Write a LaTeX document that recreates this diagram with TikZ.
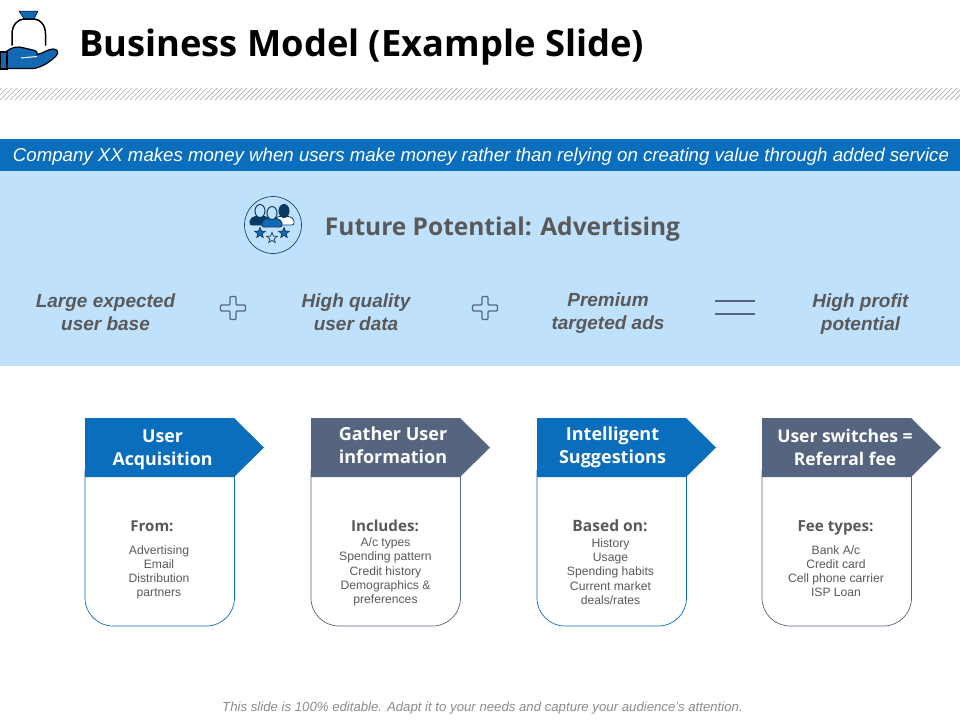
\documentclass[tikz,border=0pt]{standalone}
\usepackage{fontspec}
\usetikzlibrary{shapes.geometric}
\setmainfont{Liberation Sans}
\newfontfamily\headfont{Open Sans}
\definecolor{bandblue}{HTML}{0A6EBD}
\definecolor{paleblue}{HTML}{BFE1FB}
\definecolor{slategrey}{HTML}{55657F}
\definecolor{textgrey}{HTML}{595959}
\definecolor{iconblue}{HTML}{1268B3}
\definecolor{icondark}{HTML}{0B3A66}
\tikzset{
	bodytext/.style={text=textgrey, font=\fontsize{12.15}{14.2}\selectfont, align=center},
	fromtext/.style={text=textgrey, font=\headfont\fontsize{15.2}{17}\selectfont\bfseries},
	flowtext/.style={text=textgrey, font=\fontsize{19}{23}\selectfont\bfseries\itshape, align=center},
	headtext/.style={text=white, font=\headfont\fontsize{18}{23}\selectfont\bfseries, align=center},
	symbolline/.style={draw=slategrey, line width=1.3pt},
	cardline/.style={line width=0.7pt, rounded corners=28pt}
}
\begin{document}
\begin{tikzpicture}[x=1pt, y=-1pt]
	\useasboundingbox (0,0) rectangle (960,720);
	\fill[white] (0,0) rectangle (960,720);
	% money bag in hand
	\fill[iconblue, draw=black, line width=0.5pt] (19,11) -- (38,11) -- (34,19) -- (24,19) -- cycle;
	\draw[black, line width=1.5pt, line cap=round] (12,45) -- (12,34) .. controls (12,25) and (18,19) .. (24,19) -- (34,19) .. controls (40,19) and (45.5,25) .. (45.5,34) -- (45.5,45);
	\fill[iconblue, draw=black, line width=1.2pt] (7,51) .. controls (12,47) and (18,46) .. (24,48) -- (33,50) .. controls (37,51) and (38,53) .. (37,54.5) .. controls (42,54) and (48,49) .. (53,49) .. controls (58,49) and (59,53) .. (56,56) .. controls (50,62) and (42,67) .. (34,68.5) -- (7,68.5) -- cycle;
	\draw[white, line width=1pt] (21,58) -- (37,56.5);
	\fill[iconblue, draw=black, line width=1.2pt] (0.5,52) rectangle (7,69);
	\node[anchor=west, text=black, font=\headfont\fontsize{36.3}{40}\selectfont\bfseries, inner sep=0pt] (title) at (79,47.5) {Business Model (Example Slide)};
	% hatch band
	\begin{scope}
		\clip (0,88) rectangle (960,100);
		\foreach \hx in {-10,-5,...,965} {
			\draw[black!32, line width=0.7pt] (\hx,100) -- (\hx+12,88);
		}
	\end{scope}
	\fill[paleblue] (0,171) rectangle (960,366);
	\fill[bandblue] (0,139) rectangle (960,171);
	\node[text=white, font=\fontsize{18.65}{20}\selectfont\itshape, inner sep=0pt] (claim) at (481,156.5) {Company XX makes money when users make money rather than relying on creating value through added service};
	% people badge
	\node[circle, draw=iconblue!70!black, fill=paleblue, line width=0.7pt, minimum size=57pt, inner sep=0pt] (badge) at (273,225) {};
	\foreach \px/\py/\pc/\hc in {260/0/icondark/paleblue, 284/0/white/icondark, 272/2/iconblue/paleblue} {
		\fill[\pc, draw=icondark, line width=0.8pt, rounded corners=2pt] (\px-10,225+\py) -- (\px-10,219+\py) -- (\px-4,216+\py) -- (\px+4,216+\py) -- (\px+10,219+\py) -- (\px+10,225+\py) -- cycle;
		\fill[\hc, draw=icondark, line width=1pt] (\px,211+\py) ellipse (5pt and 6.5pt);
	}
	\foreach \sx/\sy/\sc/\sn in {260/233/iconblue/stara, 272/238/paleblue/starb, 284/233/iconblue/starc} {
		\node[star, star points=5, star point ratio=2.3, fill=\sc, draw=icondark, line width=0.7pt, minimum size=11pt, inner sep=0pt] (\sn) at (\sx,\sy) {};
	}
	\node[text=textgrey, font=\headfont\fontsize{24.5}{28}\selectfont\bfseries, inner sep=0pt] (future) at (502.5,229) {Future Potential: Advertising};
	\node[flowtext] (base) at (105.5,312) {Large expected\\user base};
	\node[flowtext] (data) at (356,312) {High quality\\user data};
	\node[flowtext] (ads) at (608,313.5) {Premium\\targeted ads};
	\node[flowtext] (profit) at (860.5,314) {High profit\\potential};
	% plus and equals
	\foreach \qx in {233,485} {
		\fill[paleblue, draw=slategrey, line width=1.3pt, rounded corners=1pt] (\qx-3,296.5) -- (\qx+3,296.5) -- (\qx+3,305) -- (\qx+12.5,305) -- (\qx+12.5,311) -- (\qx+3,311) -- (\qx+3,319.5) -- (\qx-3,319.5) -- (\qx-3,311) -- (\qx-12.5,311) -- (\qx-12.5,305) -- (\qx-3,305) -- cycle;
	}
	\coordinate (eqa) at (715,301);
	\coordinate (eqb) at (755,301);
	\coordinate (eqc) at (715,314);
	\coordinate (eqd) at (755,314);
	\draw[symbolline] (eqa) -- (eqb);
	\draw[symbolline] (eqc) -- (eqd);
	% cards
	\foreach \bx/\bc in {85/bandblue, 311/slategrey, 537/bandblue, 762/slategrey} {
		\draw[\bc, cardline] (\bx,470) -- (\bx,626) -- (\bx+149.5,626) -- (\bx+149.5,470);
		\fill[\bc] (\bx,418) -- (\bx+149,418) -- (\bx+179,447.5) -- (\bx+149,477) -- (\bx,477) -- cycle;
	}
	\node[headtext, font=\headfont\fontsize{17.8}{23}\selectfont\bfseries] (acq) at (162.5,449.5) {User\\Acquisition};
	\node[headtext] (gather) at (393,445.5) {Gather User\\information};
	\node[headtext] (smart) at (612.5,447.5) {Intelligent\\Suggestions};
	\node[headtext, font=\headfont\fontsize{17.5}{23}\selectfont\bfseries] (switch) at (845,447) {User switches =\\Referral fee};
	\node[fromtext, font=\headfont\fontsize{15}{17}\selectfont\bfseries] (from) at (152,526) {From:};
	\node[fromtext] (incl) at (385,526) {Includes:};
	\node[fromtext, font=\headfont\fontsize{15.6}{17}\selectfont\bfseries] (based) at (610,526) {Based on:};
	\node[fromtext] (fee) at (835.5,528) {Fee types:};
	\node[bodytext] (fromlist) at (159,572.5) {Advertising\\Email\\Distribution\\partners};
	\node[bodytext] (incllist) at (385.5,572) {A/c types\\Spending pattern\\Credit history\\Demographics \&\\preferences};
	\node[bodytext] (basedlist) at (610.5,571.5) {History\\Usage\\Spending habits\\Current market\\deals/rates};
	\node[bodytext] (feelist) at (836,571) {Bank A/c\\Credit card\\Cell phone carrier\\ISP Loan};
	\node[text=black!45, font=\fontsize{13.2}{14}\selectfont\itshape, inner sep=0pt] (note) at (482.5,708) {This slide is 100\% editable. Adapt it to your needs and capture your audience's attention.};
\end{tikzpicture}
\end{document}
